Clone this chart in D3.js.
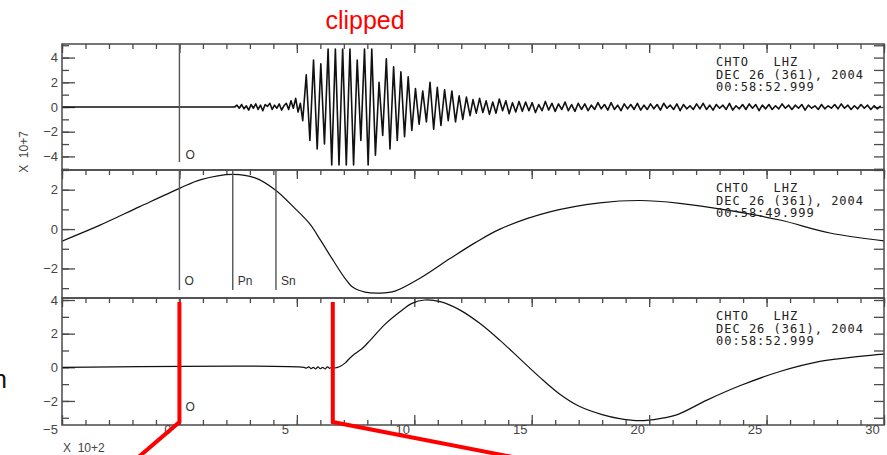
<!DOCTYPE html>
<html>
<head>
<meta charset="utf-8">
<script src="https://cdn.jsdelivr.net/npm/d3@7"></script>
<style>
  body { margin: 0; background: #fff; }
  svg { display: block; }
  .tick text { font-family: "Liberation Sans", Arial, sans-serif; }
</style>
</head>
<body>
<svg id="chart" width="887" height="455"></svg>
<script>
// ---- time axis (units of 100 s) ----
const timeDomain = [-5, 30];
const timeMajorTicks = [-5, 0, 5, 10, 15, 20, 25, 30];

// ---- panel 1: raw record, amplitude in units of 1e7 counts (clipped near +/-4.7) ----
const topOnset = [[-5, 0], [2.35, 0]];
const topPreStart = 2.45, topPreStep = 0.1;
const topPreValues = [0.15, -0.1, 0.2, -0.15, 0.1, -0.25, 0.2, -0.1, 0.25, -0.2, 0.15, -0.3, 0.2, 0.05,
  0.3, -0.2, 0.15, -0.1, 0.25, -0.25, 0.1, 0.3, -0.2, 0.5, -0.1, 0.7, -0.4, 0.3, -1.1];
const topMainStart = 5.4, topMainStep = 0.155;
const topMainValues = [2.6, -2.7, 3.8, -3.4, 3.5, -3.0, 4.7, -4.7, 4.7, -4.7, 4.7, -4.7, 4.7, -4.7,
  3.8, -2.7, 4.7, -4.7, 4.7, -3.9, 2.0, -2.3, 3.9, -3.4, 3.25, -2.7, 2.85, -2.4, 2.44, -1.9,
  1.5, -1.4, 1.3, -1.2, 2.0, -1.8, 1.6, -1.5, 1.4, -1.1, 1.3, -1.2, 0.9, -1.0, 0.8, -0.7];
const topTailStart = 12.5, topTailStep = 0.14;
const topTailValues = [
  0.6, -0.5, 0.7, -0.45, 0.5, -0.6, 0.4, -0.5, 0.65, -0.3, 0.5, -0.55, 0.35, -0.4, 0.45,
  -0.35, 0.4, -0.3, 0.35, -0.45, 0.2, -0.3, 0.45, -0.25, 0.3, -0.35, 0.25, -0.2, 0.4, -0.3, 0.2, -0.35,
  0.3, -0.2, 0.25, -0.3, 0.15, -0.2, 0.35, -0.15, 0.2, -0.25, 0.35, -0.2, 0.15, -0.3, 0.25, -0.15, 0.2, -0.2, 0.3, -0.25, 0.15,
  -0.2, 0.25, -0.15, 0.2, -0.25, 0.3, -0.1, 0.15, -0.2, 0.25, -0.3, 0.2, -0.15, 0.1, -0.2, 0.25, -0.15, 0.3,
  -0.2, 0.15, -0.25, 0.2, -0.1, 0.15, -0.2, 0.3, -0.25, 0.1, -0.15, 0.2, -0.2, 0.25, -0.1, 0.2, -0.3, 0.15,
  -0.15, 0.2, -0.2, 0.1, -0.15, 0.25, -0.1, 0.15, -0.2, 0.15, -0.1, 0.2, -0.25, 0.15, -0.1, 0.1, -0.2, 0.2,
  -0.15, 0.1, -0.1, 0.2, -0.15, 0.25, -0.1, 0.15, -0.2, 0.1, -0.15, 0.2, -0.1, 0.15, -0.2, 0.1, -0.15, 0.1];

// ---- panel 2: restored long-period record ----
const midTrace = [[-5, -0.61], [-3.38, 0.2], [-1.69, 1.14], [0.03, 2.08], [0.88, 2.5], [2.28, 2.78],
  [3.22, 2.6], [4.07, 2.0], [4.92, 1.05], [5.56, 0.25], [6.0, -0.55], [6.54, -1.58], [7.05, -2.5],
  [7.39, -2.96], [7.9, -3.2], [8.54, -3.25], [9.18, -3.15], [10.24, -2.5], [11.52, -1.5], [12.58, -0.7],
  [13.65, 0.0], [15.77, 0.87], [17.9, 1.33], [19.6, 1.45], [21.3, 1.31], [23.4, 0.95], [25.57, 0.46],
  [27.7, -0.2], [30, -0.6]];

// ---- panel 3: long-period record ----
const lowTrace = [[-5, 0], [5.3, 0], [5.4, -0.05], [5.5, 0.03], [5.6, -0.08], [5.7, 0.0], [5.8, -0.1],
  [5.9, 0.02], [6.0, -0.08], [6.1, 0.0], [6.2, -0.1], [6.3, 0.03], [6.4, -0.06], [6.5, 0.02], [6.6, -0.04],
  [6.83, 0.05], [7.05, 0.25], [7.26, 0.55], [7.47, 0.8], [7.77, 1.1], [8.12, 1.6], [8.75, 2.55], [9.39, 3.3],
  [9.9, 3.8], [10.45, 4.0], [11.1, 3.9], [11.95, 3.4], [12.8, 2.6], [13.65, 1.6], [14.5, 0.5], [15.35, -0.6],
  [16.2, -1.6], [17.0, -2.3], [18.0, -2.81], [18.75, -3.05], [19.6, -3.17], [20.45, -3.05], [21.2, -2.81],
  [22.46, -1.95], [23.86, -1.1], [25.57, -0.25], [27.27, 0.35], [28.97, 0.65], [30, 0.78]];

// ---- header text and phase picks ----
const stationLine = "CHTO   LHZ";
const dateLine = "DEC 26 (361), 2004";
const startTimes = ["00:58:52.999", "00:58:49.999", "00:58:52.999"];
const midPicks = [{ name: "O", t: 0 }, { name: "Pn", t: 2.27 }, { name: "Sn", t: 4.11 }];
const clipMarks = [0, 6.53];

// ---- build the series ----
function uniformSeries(start, step, values) {
  return values.map((v, i) => [start + i * step, v]);
}
const topTrace = topOnset
  .concat(uniformSeries(topPreStart, topPreStep, topPreValues))
  .concat(uniformSeries(topMainStart, topMainStep, topMainValues))
  .concat(uniformSeries(topTailStart, topTailStep, topTailValues));

const svg = d3.select("#chart");
const left = 62, right = 884;
const x = d3.scaleLinear().domain(timeDomain).range([left, right]);

const panels = [
  { top: 44, bottom: 170, domain: [-5.1, 5.1], labels: [-4, -2, 0, 2, 4], minor: d3.range(-5, 6),
    trace: topTrace, curve: d3.curveLinear, stamp: startTimes[0] },
  { top: 170, bottom: 298, domain: [-3.5, 3.0], labels: [-2, 0, 2], minor: d3.range(-3, 4),
    trace: midTrace, curve: d3.curveCatmullRom, stamp: startTimes[1] },
  { top: 298, bottom: 425, domain: [-3.43, 4.12], labels: [-2, 0, 2, 4], minor: d3.range(-3, 5),
    trace: lowTrace, curve: d3.curveCatmullRom, stamp: startTimes[2] }
];

const axisColor = "#4a4a4a";
const labelFont = "Liberation Sans, Arial, sans-serif";
const fmt = d => (d < 0 ? "\u2212" + Math.abs(d) : String(d));
const xMinor = d3.range(-5, 31, 1);

function styleAxis(g) {
  g.select(".domain").remove();
  g.selectAll(".tick line").attr("stroke", axisColor).attr("stroke-width", 1.3);
  g.selectAll(".tick text").attr("fill", "#444").style("font-size", "13px");
}

panels.forEach((p, i) => {
  const y = d3.scaleLinear().domain(p.domain).range([p.bottom, p.top]);
  p.y = y;
  const g = svg.append("g");

  // clip region for the trace
  const clipId = "clip" + i;
  svg.append("clipPath").attr("id", clipId).append("rect")
    .attr("x", left).attr("y", p.top).attr("width", right - left).attr("height", p.bottom - p.top);

  // left axis: minor and labelled major ticks pointing inward
  g.append("g").attr("transform", `translate(${left},0)`)
    .call(d3.axisLeft(y).tickValues(p.minor).tickSize(-7).tickFormat(""))
    .call(styleAxis);
  g.append("g").attr("transform", `translate(${left},0)`)
    .call(d3.axisLeft(y).tickValues(p.labels).tickSize(-13).tickPadding(4).tickFormat(fmt))
    .call(styleAxis);

  // right axis ticks
  g.append("g").attr("transform", `translate(${right},0)`)
    .call(d3.axisRight(y).tickValues(p.minor).tickSize(-10).tickFormat(""))
    .call(styleAxis);

  // top ticks
  g.append("g").attr("transform", `translate(0,${p.top})`)
    .call(d3.axisTop(x).tickValues(xMinor).tickSize(-5).tickFormat(""))
    .call(styleAxis);
  g.append("g").attr("transform", `translate(0,${p.top})`)
    .call(d3.axisTop(x).tickValues(timeMajorTicks).tickSize(-9).tickFormat(""))
    .call(styleAxis);

  // trace
  const line = d3.line().x(d => x(d[0])).y(d => y(d[1])).curve(p.curve);
  g.append("path").datum(p.trace)
    .attr("clip-path", `url(#${clipId})`)
    .attr("d", line)
    .attr("fill", "none")
    .attr("stroke", "#111")
    .attr("stroke-width", i === 0 ? 1.6 : 1.2)
    .attr("stroke-linejoin", "round");

  // frame
  g.append("rect").attr("x", left).attr("y", p.top)
    .attr("width", right - left).attr("height", p.bottom - p.top)
    .attr("fill", "none").attr("stroke", axisColor).attr("stroke-width", 1.5);

  // header text
  const tx = g.append("text")
    .attr("x", 716).attr("y", p.top + 22)
    .attr("fill", "#222")
    .style("font-family", "DejaVu Sans Mono, monospace")
    .style("font-size", "12px")
    .style("letter-spacing", "1px")
    .style("white-space", "pre");
  [stationLine, dateLine, p.stamp].forEach((s, k) => {
    tx.append("tspan").attr("x", 716).attr("dy", k === 0 ? 0 : 12.5).text(s);
  });
});

// bottom time axis
const lowPanel = panels[2];
svg.append("g").attr("transform", `translate(0,${lowPanel.bottom})`)
  .call(d3.axisBottom(x).tickValues(xMinor).tickSize(-5).tickFormat(""))
  .call(styleAxis);
svg.append("g").attr("transform", `translate(0,${lowPanel.bottom})`)
  .call(d3.axisBottom(x).tickValues(timeMajorTicks).tickSize(-10).tickPadding(3).tickFormat(fmt))
  .call(styleAxis)
  .call(g => g.selectAll(".tick text").attr("dx", -12).attr("dy", "0.45em"));

// exponent notes
svg.append("text")
  .attr("transform", "translate(28,152) rotate(-90)")
  .attr("text-anchor", "middle")
  .attr("fill", "#444")
  .style("font-family", labelFont).style("font-size", "12px")
  .style("white-space", "pre")
  .text("X  10+7");
svg.append("text")
  .attr("x", 63).attr("y", 452)
  .attr("fill", "#444")
  .style("font-family", labelFont).style("font-size", "12px")
  .style("white-space", "pre")
  .text("X  10+2");

// phase pick lines
const pickStyle = sel => sel.attr("stroke", "#555").attr("stroke-width", 1.4);
const pickFont = sel => sel.attr("fill", "#333").style("font-family", labelFont).style("font-size", "12px");

const topP = panels[0];
svg.append("line").attr("x1", x(0)).attr("x2", x(0)).attr("y1", topP.top).attr("y2", topP.top + 118).call(pickStyle);
svg.append("text").attr("x", x(0) + 6).attr("y", topP.top + 115).text("O").call(pickFont);

const midP = panels[1];
midPicks.forEach(pk => {
  svg.append("line").attr("x1", x(pk.t)).attr("x2", x(pk.t)).attr("y1", midP.top).attr("y2", midP.top + 120).call(pickStyle);
  svg.append("text").attr("x", x(pk.t) + 5).attr("y", midP.top + 115).text(pk.name).call(pickFont);
});

svg.append("line").attr("x1", x(0)).attr("x2", x(0)).attr("y1", lowPanel.top).attr("y2", lowPanel.top + 115).call(pickStyle);
svg.append("text").attr("x", x(0) + 6).attr("y", lowPanel.top + 113).text("O").call(pickFont);

// red call-out lines
const red = "#ff0000";
const rTop = lowPanel.top + 4, rBot = lowPanel.bottom - 3;
svg.append("polyline")
  .attr("points", [[x(clipMarks[0]), rTop], [x(clipMarks[0]), rBot], [x(clipMarks[0]) - 42, 458]].map(d => d.join(",")).join(" "))
  .attr("fill", "none").attr("stroke", red).attr("stroke-width", 4);
svg.append("polyline")
  .attr("points", [[x(clipMarks[1]), rTop], [x(clipMarks[1]), rBot], [x(clipMarks[1]) + 185, 458]].map(d => d.join(",")).join(" "))
  .attr("fill", "none").attr("stroke", red).attr("stroke-width", 4);

// titles
svg.append("text").attr("x", 365).attr("y", 29).attr("text-anchor", "middle")
  .attr("fill", red).style("font-family", labelFont).style("font-size", "25px").text("clipped");
svg.append("text").attr("x", 7).attr("y", 388).attr("text-anchor", "end")
  .attr("fill", "#111").style("font-family", labelFont).style("font-size", "25px").text("n");
</script>
</body>
</html>
